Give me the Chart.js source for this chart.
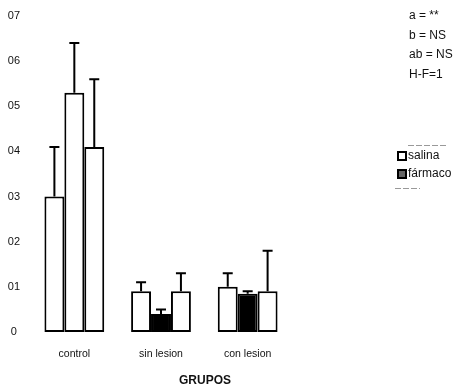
<!DOCTYPE html>
<html>
<head>
<meta charset="utf-8">
<script src="https://cdn.jsdelivr.net/npm/chart.js@4.4.1/dist/chart.umd.min.js"></script>
<style>
  html, body { margin: 0; padding: 0; background: #fff; }
  #wrap { width: 471px; height: 389px; position: relative; }
</style>
</head>
<body>
<div id="wrap"><canvas id="chart"></canvas></div>
<script>
// ── Data ──────────────────────────────────────
const groups     = ['control', 'sin lesion', 'con lesion'];
const serie1     = [0.30, 0.09, 0.10];
const serie2     = [0.53, 0.04, 0.085];
const serie3     = [0.41, 0.09, 0.09];
const err1       = [0.11, 0.02, 0.03];
const err2       = [0.11, 0.01, 0.005];
const err3       = [0.15, 0.04, 0.09];
const serie2Fill = ['#ffffff', '#000000', '#000000'];
const yTicks     = [0, 0.1, 0.2, 0.3, 0.4, 0.5, 0.6, 0.7];
const stats      = ['a = **', 'b = NS', 'ab = NS', 'H-F=1'];
const legendText = ['salina', 'fármaco'];

const FONT = '"Liberation Sans", Arial, sans-serif';
const errs = [err1, err2, err3];

// error bars drawn from the data through the scales
const errorBars = {
  id: 'errorBars',
  afterDatasetsDraw(chart) {
    const ctx = chart.ctx, y = chart.scales.y;
    ctx.save();
    ctx.strokeStyle = '#000';
    ctx.lineWidth = 2;
    chart.data.datasets.forEach((ds, di) => {
      const meta = chart.getDatasetMeta(di);
      meta.data.forEach((bar, i) => {
        const top = y.getPixelForValue(ds.data[i] + errs[di][i]);
        const base = y.getPixelForValue(ds.data[i]);
        ctx.beginPath();
        ctx.moveTo(bar.x, base);
        ctx.lineTo(bar.x, top);
        ctx.moveTo(bar.x - 5, top);
        ctx.lineTo(bar.x + 5, top);
        ctx.stroke();
      });
    });
    ctx.restore();
  }
};

// stats text, legend and axis title
const extras = {
  id: 'extras',
  afterDraw(chart) {
    const ctx = chart.ctx;
    ctx.save();
    ctx.fillStyle = '#111';
    ctx.textBaseline = 'middle';
    ctx.font = '12px ' + FONT;
    stats.forEach((t, i) => ctx.fillText(t, 409, 16 + i * 19.5));

    // legend
    const fills = ['#ffffff', '#666666'];
    legendText.forEach((t, i) => {
      const yy = 156 + i * 18;
      ctx.fillStyle = fills[i];
      ctx.fillRect(398, yy - 4, 8, 8);
      ctx.strokeStyle = '#000';
      ctx.lineWidth = 2;
      ctx.strokeRect(398, yy - 4, 8, 8);
      ctx.fillStyle = '#111';
      ctx.fillText(t, 408, yy);
    });
    ctx.strokeStyle = '#999';
    ctx.lineWidth = 1;
    ctx.setLineDash([6, 2]);
    ctx.beginPath();
    ctx.moveTo(408, 145.5); ctx.lineTo(448, 145.5);
    ctx.moveTo(395, 188.5); ctx.lineTo(420, 188.5);
    ctx.stroke();
    ctx.setLineDash([]);

    // x title
    ctx.fillStyle = '#111';
    ctx.font = 'bold 12px ' + FONT;
    ctx.textAlign = 'center';
    ctx.fillText('GRUPOS', 205, 381);
    ctx.restore();
  }
};

const barStyle = { borderColor: '#000', borderWidth: 2, borderSkipped: false,
                   categoryPercentage: 0.69, barPercentage: 1.0 };

new Chart(document.getElementById('chart'), {
  type: 'bar',
  data: {
    labels: groups,
    datasets: [
      { label: 'salina',  data: serie1, backgroundColor: '#ffffff', ...barStyle },
      { label: 'fármaco', data: serie2, backgroundColor: serie2Fill, ...barStyle },
      { label: 'serie3',  data: serie3, backgroundColor: '#ffffff', ...barStyle },
    ],
  },
  options: {
    responsive: true,
    maintainAspectRatio: false,
    animation: false,
    layout: { padding: { top: 16, right: 180, bottom: 0, left: 0 } },
    plugins: { legend: { display: false }, tooltip: { enabled: false } },
    scales: {
      x: {
        grid: { display: false }, border: { display: false },
        ticks: { font: { size: 10.5, family: FONT }, color: '#111', padding: 8 },
        afterFit: s => { s.height = 57; },
      },
      y: {
        min: 0, max: 0.7,
        grid: { display: false }, border: { display: false },
        afterBuildTicks: s => { s.ticks = yTicks.map(v => ({ value: v })); },
        ticks: {
          font: { size: 11, family: FONT }, color: '#111', crossAlign: 'center',
          callback: v => v === 0 ? '0' : '0' + Math.round(v * 10),
        },
        afterFit: s => { s.width = 31; },
      },
    },
  },
  plugins: [errorBars, extras],
});
</script>
</body>
</html>
